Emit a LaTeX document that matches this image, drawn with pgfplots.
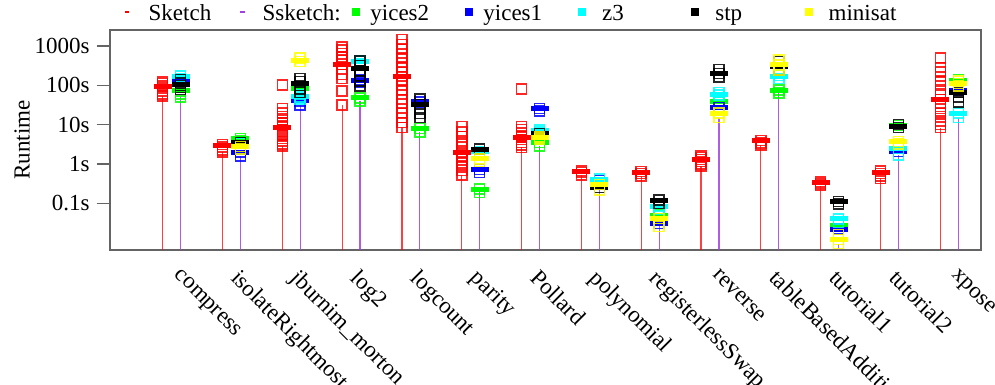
\documentclass[border=0pt]{standalone}
\usepackage{fontspec}
\setmainfont{Liberation Serif}
\usepackage{pgfplots}
\pgfplotsset{compat=1.18}

\definecolor{cRed}{RGB}{255,0,0}
\definecolor{cViolet}{RGB}{160,64,224}
\definecolor{cGreen}{RGB}{0,255,0}
\definecolor{cBlue}{RGB}{0,0,255}
\definecolor{cCyan}{RGB}{0,255,255}
\definecolor{cYellow}{RGB}{255,255,0}
\definecolor{axgray}{RGB}{100,100,100}
\newcommand\fs{\fontsize{11.5bp}{13.8bp}\selectfont}

\pgfplotsset{
  runs/.style={only marks, mark=square, mark size=2.5bp, mark options={line width=0.75bp, draw opacity=0.85, fill=none, solid}},
  med/.style={only marks, mark=-, mark size=4.5bp, mark options={line width=2.5bp, solid}},
}

\begin{document}
\begin{tikzpicture}
\useasboundingbox (-55bp,-67.5bp) rectangle (442.5bp,125bp);
\clip (-55bp,-67.5bp) rectangle (442.5bp,125bp);
\begin{axis}[
  at={(0,0)}, anchor=south west, scale only axis,
  width=435.5bp, height=110bp,
  ymode=log, ymin=0.0065, ymax=2550,
  xmin=-0.03, xmax=14.53,
  log origin y=infty,
  axis line style={draw=axgray, line width=0.7bp},
  ytick={0.1,1,10,100,1000}, yticklabels={0.1s,1s,10s,100s,1000s},
  yminorticks=false,
  ytick pos=left, tick align=outside,
  major tick length=6.65bp,
  ytick style={draw=axgray, line width=0.7bp},
  xtick={1,...,14},
  xticklabels={compress,isolateRightmost,jburnim\_morton,log2,logcount,parity,Pollard,polynomial,registerlessSwap,reverse,tableBasedAddition,tutorial1,tutorial2,xpose},
  xtick style={draw=none},
  xticklabel style={rotate=-45, anchor=north west, inner sep=0pt, xshift=5bp, yshift=2bp},
  tick label style={font=\fs},
  /pgf/number format/assume math mode=true,
  ylabel={Runtime}, ylabel style={font=\fs, at={(axis description cs:-0.101,0.5)}, anchor=center},
]
% impulses
\addplot[ycomb, draw=cRed, draw opacity=0.75, line width=0.6bp, mark=none] coordinates {
(0.85,54) (1.85,2.0) (2.85,2.9) (3.85,32) (4.85,8.5) (5.85,0.52) (6.85,2.65) (7.85,0.53) (8.85,0.5) (9.85,0.88) (10.85,3.0) (11.85,0.28) (12.85,0.43) (13.85,8.4)};
\addplot[ycomb, draw=cViolet, draw opacity=0.85, line width=0.6bp, mark=none] coordinates {
(1.15,50) (2.15,1.6) (3.15,32) (4.15,40) (5.15,6.5) (6.15,0.19) (7.15,2.9) (8.15,0.22) (9.15,0.026) (10.15,15) (11.15,63) (12.15,0.0095) (13.15,1.7) (14.15,15)};
% Sketch
\addplot[runs, cRed] coordinates {
(0.85,122) (0.85,110) (0.85,100) (0.85,94) (0.85,85) (0.85,72) (0.85,60) (0.85,54)
(1.85,3.1) (1.85,2.7) (1.85,2.3) (1.85,2.0)
(2.85,102) (2.85,26) (2.85,20) (2.85,16) (2.85,13) (2.85,11) (2.85,9.5) (2.85,8.6) (2.85,7.5) (2.85,6.5) (2.85,5.5) (2.85,4.5) (2.85,3.8) (2.85,3.2) (2.85,2.9)
(3.85,940) (3.85,780) (3.85,640) (3.85,520) (3.85,430) (3.85,343) (3.85,250) (3.85,190) (3.85,150) (3.85,72) (3.85,32)
(4.85,1450) (4.85,1100) (4.85,850) (4.85,650) (4.85,500) (4.85,380) (4.85,290) (4.85,220) (4.85,170) (4.85,130) (4.85,100) (4.85,75) (4.85,58) (4.85,44) (4.85,34) (4.85,26) (4.85,20) (4.85,15) (4.85,11.5) (4.85,8.5)
(5.85,9) (5.85,6.5) (5.85,5) (5.85,4) (5.85,3.2) (5.85,2.6) (5.85,2.0) (5.85,1.6) (5.85,1.3) (5.85,1.05) (5.85,0.85) (5.85,0.68) (5.85,0.52)
(6.85,80) (6.85,9) (6.85,7.5) (6.85,6.2) (6.85,5.2) (6.85,4.8) (6.85,4.2) (6.85,3.5) (6.85,3.0) (6.85,2.65)
(7.85,0.66) (7.85,0.6) (7.85,0.53)
(8.85,0.64) (8.85,0.57) (8.85,0.5)
(9.85,1.6) (9.85,1.45) (9.85,1.3) (9.85,1.15) (9.85,1.0) (9.85,0.88)
(10.85,3.9) (10.85,3.4) (10.85,3.0)
(11.85,0.35) (11.85,0.31) (11.85,0.28)
(12.85,0.66) (12.85,0.57) (12.85,0.5) (12.85,0.43)
(13.85,500) (13.85,280) (13.85,220) (13.85,170) (13.85,130) (13.85,100) (13.85,78) (13.85,60) (13.85,44) (13.85,34) (13.85,26) (13.85,20) (13.85,16) (13.85,12.5) (13.85,10) (13.85,8.4)};
\addplot[med, cRed] coordinates {
(0.85,94) (1.85,3.0) (2.85,8.6) (3.85,343) (4.85,170) (5.85,2.0) (6.85,4.8) (7.85,0.65) (8.85,0.62) (9.85,1.32) (10.85,3.85) (11.85,0.34) (12.85,0.6) (13.85,44)};
% yices2
\addplot[runs, cGreen] coordinates {
(1.15,72) (1.15,60) (1.15,50) (2.15,4.5) (2.15,4.0) (3.15,83) (3.15,75) (4.15,48) (4.15,40) (5.15,7.9) (5.15,6.5) (6.15,0.23) (6.15,0.19) (7.15,3.55) (7.15,2.9) (9.15,0.05) (10.15,38) (11.15,76) (11.15,63) (12.15,0.027) (13.15,9.5) (14.15,140)};
\addplot[med, cGreen] coordinates {
(1.15,72) (2.15,4.5) (3.15,83) (4.15,48) (5.15,7.9) (6.15,0.23) (7.15,3.55) (9.15,0.05) (10.15,38) (11.15,76) (12.15,0.027) (13.15,9.5) (14.15,136)};
% yices1
\addplot[runs, cBlue] coordinates {
(1.15,136) (1.15,125) (2.15,2.0) (2.15,1.6) (3.15,40) (3.15,32) (4.15,136) (4.15,120) (5.15,38) (6.15,0.73) (6.15,0.6) (7.15,26) (7.15,22) (8.15,0.38) (9.15,0.031) (10.15,27.5) (12.15,0.022) (13.15,2.1) (14.15,76)};
\addplot[med, cBlue] coordinates {
(1.15,136) (2.15,2.0) (3.15,40) (4.15,136) (5.15,38) (6.15,0.73) (7.15,26) (8.15,0.38) (9.15,0.031) (10.15,27.5) (12.15,0.022) (13.15,2.1) (14.15,76)};
% z3
\addplot[runs, cCyan] coordinates {
(1.15,175) (1.15,150) (2.15,3.3) (3.15,58) (3.15,51) (3.15,45) (4.15,420) (4.15,360) (6.15,2.1) (7.15,7.3) (7.15,6.5) (8.15,0.41) (9.15,0.085) (9.15,0.07) (10.15,65) (10.15,57) (11.15,180) (11.15,150) (12.15,0.04) (12.15,0.033) (13.15,2.5) (13.15,1.7) (14.15,19.5) (14.15,15)};
\addplot[med, cCyan] coordinates {
(1.15,166) (2.15,3.3) (3.15,51) (4.15,400) (6.15,2.1) (7.15,7.3) (8.15,0.41) (9.15,0.082) (10.15,57) (11.15,166) (12.15,0.04) (13.15,2.5) (14.15,19.5)};
% stp
\addplot[runs, black] coordinates {
(1.15,140) (1.15,115) (1.15,100) (1.15,88) (1.15,78) (2.15,3.5) (3.15,150) (3.15,125) (3.15,100) (3.15,80) (3.15,65) (4.15,420) (4.15,320) (4.15,240) (4.15,180) (4.15,130) (4.15,95) (5.15,45) (5.15,33) (5.15,25) (5.15,19) (5.15,15) (6.15,2.4) (7.15,6) (8.15,0.25) (9.15,0.12) (9.15,0.1) (10.15,250) (10.15,200) (10.15,165) (11.15,400) (11.15,245) (12.15,0.11) (12.15,0.095) (13.15,10) (13.15,8.5) (14.15,76) (14.15,65) (14.15,51) (14.15,38)};
\addplot[med, black] coordinates {
(1.15,102) (2.15,3.5) (3.15,112) (4.15,260) (5.15,33.5) (6.15,2.4) (7.15,6) (8.15,0.25) (9.15,0.12) (10.15,202) (11.15,300) (12.15,0.11) (13.15,9.2) (14.15,65)};
% minisat
\addplot[runs, cYellow] coordinates {
(2.15,2.75) (2.15,2.4) (3.15,500) (3.15,400) (6.15,1.34) (6.15,1.15) (7.15,4.8) (7.15,4.3) (8.15,0.3) (8.15,0.22) (9.15,0.041) (9.15,0.026) (10.15,19.5) (10.15,15) (11.15,440) (11.15,330) (11.15,245) (12.15,0.016) (12.15,0.012) (12.15,0.0095) (13.15,3.7) (13.15,3.2) (14.15,130) (14.15,112) (14.15,95)};
\addplot[med, cYellow] coordinates {
(2.15,2.75) (3.15,440) (6.15,1.34) (7.15,4.8) (8.15,0.3) (9.15,0.041) (10.15,19.5) (11.15,330) (12.15,0.012) (13.15,3.7) (14.15,112)};
\end{axis}
% legend
\draw[cRed, line width=0.8bp] (7.65bp,118.85bp) -- (9.65bp,118.85bp);
\node[anchor=base west, inner sep=0pt, font=\fs] at (19.15bp,114.65bp) {Sketch};
\draw[cViolet, line width=0.8bp] (65bp,118.85bp) -- (67.5bp,118.85bp);
\node[anchor=base west, inner sep=0pt, font=\fs] at (76.15bp,114.65bp) {Ssketch:};
\fill[cGreen] (120.85bp,116.75bp) rectangle ++(4bp,4bp);
\node[anchor=base west, inner sep=0pt, font=\fs] at (130bp,114.65bp) {yices2};
\fill[cBlue] (177.5bp,116.75bp) rectangle ++(4bp,4bp);
\node[anchor=base west, inner sep=0pt, font=\fs] at (186.5bp,114.65bp) {yices1};
\fill[cCyan] (234.15bp,116.75bp) rectangle ++(4bp,4bp);
\node[anchor=base west, inner sep=0pt, font=\fs] at (245.85bp,114.65bp) {z3};
\fill[black] (290.5bp,116.75bp) rectangle ++(4bp,4bp);
\node[anchor=base west, inner sep=0pt, font=\fs] at (302.5bp,114.65bp) {stp};
\fill[cYellow] (347.5bp,116.75bp) rectangle ++(4bp,4bp);
\node[anchor=base west, inner sep=0pt, font=\fs] at (359.15bp,114.65bp) {minisat};
\end{tikzpicture}
\end{document}
